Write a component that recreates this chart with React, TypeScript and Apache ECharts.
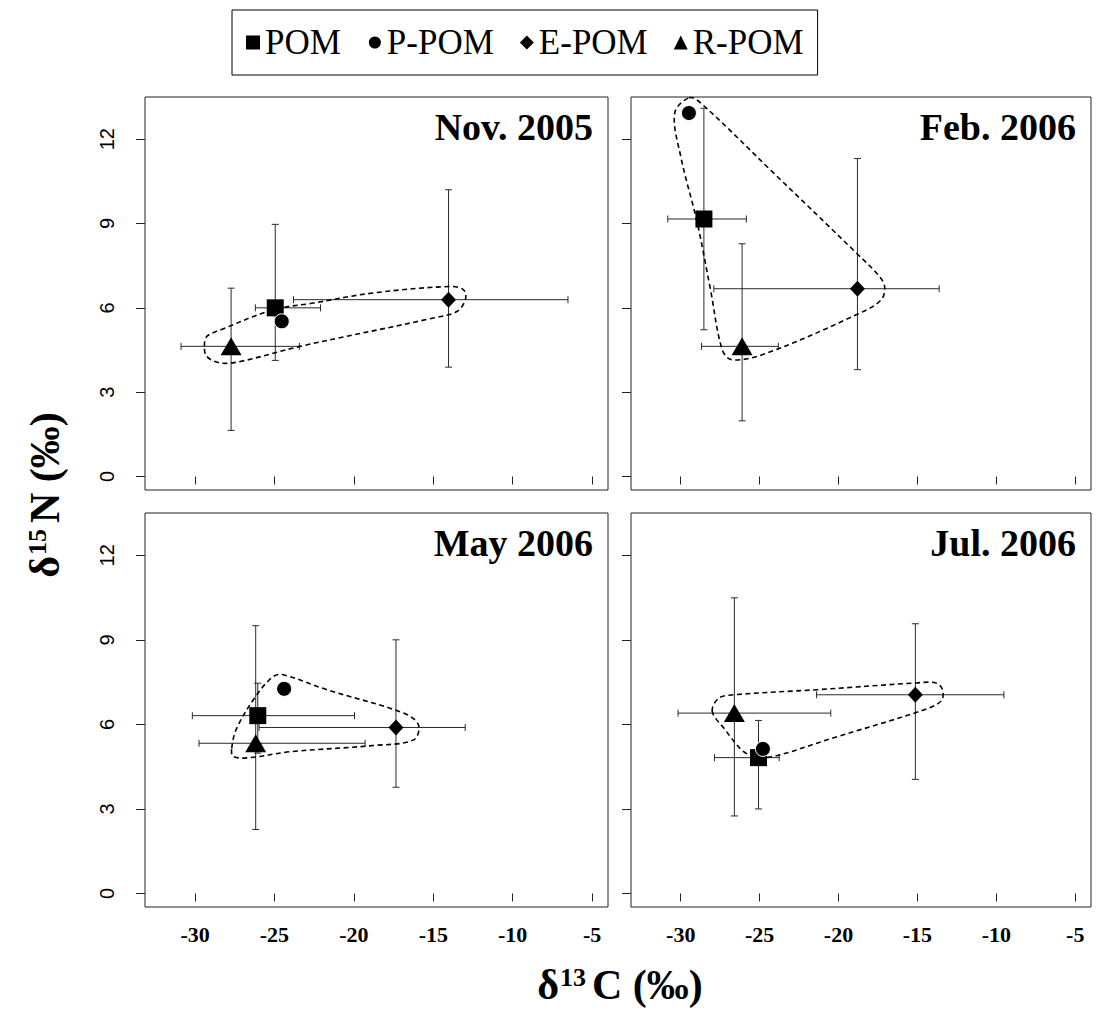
import React, { useEffect, useRef } from "react";
import * as echarts from "echarts";

const panelTitles = ["Nov. 2005", "Feb. 2006", "May 2006", "Jul. 2006"];
const seriesNames = ["POM", "P-POM", "E-POM", "R-POM"];
const xTicks = [-30, -25, -20, -15, -10, -5];
const yTicks = [0, 3, 6, 9, 12];

// means [d13C, d15N], order: POM, P-POM, E-POM, R-POM
const novMeans = [[-24.95, 6.0], [-24.54, 5.52], [-14.04, 6.29], [-27.73, 4.63]];
const febMeans = [[-28.53, 9.16], [-29.48, 12.93], [-18.8, 6.68], [-26.11, 4.63]];
const mayMeans = [[-26.05, 6.31], [-24.39, 7.26], [-17.35, 5.89], [-26.18, 5.33]];
const julMeans = [[-25.07, 4.82], [-24.79, 5.13], [-15.13, 7.05], [-26.6, 6.4]];

// error ranges [xLow, xHigh, yLow, yHigh]
const novErrors = [[-26.2, -22.1, 4.13, 8.97], null, [-23.8, -6.52, 3.89, 10.2], [-30.88, -23.43, 1.64, 6.7]];
const febErrors = [[-30.82, -25.84, 5.22, 13.1], null, [-27.9, -13.62, 3.8, 11.31], [-28.68, -23.81, 1.98, 8.28]];
const mayErrors = [[-30.17, -19.96, 4.98, 7.46], null, [-25.97, -12.99, 3.77, 9.0], [-29.75, -19.29, 2.27, 9.5]];
const julErrors = [[-27.86, -23.76, 3.0, 6.14], null, [-21.39, -9.52, 4.05, 9.57], [-30.17, -20.49, 2.75, 10.49]];

// dashed outlines (d13C, d15N)
const novHull = [[-29.41, 4.63], [-29.26, 4.98], [-28.42, 5.21], [-25.07, 5.93], [-22.55, 6.17], [-18.77, 6.53], [-13.93, 6.76], [-13.09, 6.64], [-12.98, 6.29], [-13.51, 5.87], [-14.98, 5.64], [-23.38, 4.63], [-27.16, 4.09], [-28.42, 4.04], [-29.26, 4.27]];
const febHull = [[-29.48, 13.47], [-28.74, 13.29], [-24.12, 10.8], [-18.87, 7.95], [-17.5, 7.18], [-17.08, 6.76], [-17.29, 6.29], [-18.66, 5.81], [-24.54, 4.39], [-26.74, 4.15], [-27.37, 4.51], [-28.11, 6.64], [-28.95, 9.02], [-30.0, 11.39], [-30.38, 12.93]];
const mayHull = [[-27.69, 5.15], [-27.37, 5.87], [-26.11, 7.05], [-25.07, 7.7], [-24.44, 7.76], [-21.7, 7.23], [-16.87, 6.4], [-15.93, 5.98], [-16.24, 5.45], [-18.77, 5.25], [-24.01, 5.03], [-26.53, 4.82], [-27.59, 4.86]];
const julHull = [[-28.0, 6.46], [-27.59, 6.93], [-26.64, 7.05], [-21.39, 7.23], [-15.08, 7.47], [-13.82, 7.47], [-13.41, 7.23], [-13.51, 6.82], [-14.88, 6.46], [-20.34, 5.52], [-24.12, 4.86], [-25.17, 4.86], [-26.01, 5.03], [-27.27, 5.87]];

const allMeans = [novMeans, febMeans, mayMeans, julMeans];
const allErrors = [novErrors, febErrors, mayErrors, julErrors];
const allHulls = [novHull, febHull, mayHull, julHull];

const X_MIN = -33.15;
const X_MAX = -4.0;
const Y_MIN = -0.48;
const Y_MAX = 13.5;

const grids = [
  { left: 145, top: 97, width: 463, height: 393 },
  { left: 631, top: 97, width: 460, height: 393 },
  { left: 145, top: 513, width: 463, height: 394 },
  { left: 631, top: 513, width: 460, height: 394 },
];

const symbols = [
  { symbol: "rect", size: 17 },
  { symbol: "circle", size: 15 },
  { symbol: "diamond", size: [15, 16] },
  { symbol: "triangle", size: [21, 18] },
];

const SERIF = "'Liberation Serif', 'Times New Roman', serif";
const SANS = "'Liberation Sans', Arial, sans-serif";

export default function App() {
  const ref = useRef<HTMLDivElement>(null);
  useEffect(() => {
    document.body.style.margin = "0";
    const chart = echarts.init(ref.current!, null, { renderer: "svg" });

    const series: any[] = [];
    for (let p = 0; p < 4; p++) {
      const means = allMeans[p];
      const errs = allErrors[p];
      const errData: number[][] = [];
      errs.forEach((e, i) => {
        if (e) errData.push([means[i][0], means[i][1], e[0], e[1], e[2], e[3]]);
      });
      series.push({
        type: "custom",
        xAxisIndex: p,
        yAxisIndex: p,
        silent: true,
        z: 1,
        data: errData,
        renderItem: (params: any, api: any) => {
          const x = api.value(0), y = api.value(1);
          const pL = api.coord([api.value(2), y]);
          const pR = api.coord([api.value(3), y]);
          const pB = api.coord([x, api.value(4)]);
          const pT = api.coord([x, api.value(5)]);
          const c = 3.5;
          const st = { stroke: "#2a2a2a", lineWidth: 1 };
          const ln = (x1: number, y1: number, x2: number, y2: number) => ({
            type: "line",
            shape: { x1, y1, x2, y2 },
            style: st,
          });
          return {
            type: "group",
            children: [
              ln(pL[0], pL[1], pR[0], pR[1]),
              ln(pL[0], pL[1] - c, pL[0], pL[1] + c),
              ln(pR[0], pR[1] - c, pR[0], pR[1] + c),
              ln(pB[0], pB[1], pT[0], pT[1]),
              ln(pB[0] - c, pB[1], pB[0] + c, pB[1]),
              ln(pT[0] - c, pT[1], pT[0] + c, pT[1]),
            ],
          };
        },
      });
      const hull = allHulls[p];
      series.push({
        type: "custom",
        xAxisIndex: p,
        yAxisIndex: p,
        silent: true,
        z: 2,
        data: [hull[0]],
        renderItem: (params: any, api: any) => {
          const pts = hull.map((h) => api.coord(h));
          return {
            type: "polygon",
            shape: { points: pts, smooth: 0.35 },
            style: { fill: "none", stroke: "#000", lineWidth: 1.6, lineDash: [5, 3.5] },
          };
        },
      });
      for (let s = 0; s < 4; s++) {
        series.push({
          type: "scatter",
          name: seriesNames[s],
          xAxisIndex: p,
          yAxisIndex: p,
          z: 3,
          symbol: symbols[s].symbol,
          symbolSize: symbols[s].size,
          itemStyle:
            s === 1
              ? { color: "#000", opacity: 1, borderColor: "#fff", borderWidth: 1 }
              : { color: "#000", opacity: 1 },
          data: [means[s]],
        });
      }
    }

    const graphic: any[] = [];
    grids.forEach((g, i) => {
      graphic.push({
        type: "text",
        x: g.left + g.width - 15,
        y: g.top + 30,
        style: {
          text: panelTitles[i],
          fontFamily: SERIF,
          fontWeight: "bold",
          fontSize: 38,
          fill: "#000",
          textAlign: "right",
          align: "right",
          textVerticalAlign: "middle",
          verticalAlign: "middle",
        },
      });
    });
    const rich = {
      a: { fontFamily: SERIF, fontWeight: "bold", fontSize: 42, fill: "#000", color: "#000" },
      s: { fontFamily: SERIF, fontWeight: "bold", fontSize: 26, fill: "#000", color: "#000", verticalAlign: "top", padding: [0, 6, 0, 1] },
    };
    graphic.push({
      type: "text",
      x: 620,
      y: 985,
      style: {
        text: "{a|δ}{s|13}{a|C (‰)}",
        rich,
        textAlign: "center",
        align: "center",
        textVerticalAlign: "middle",
        verticalAlign: "middle",
      },
    });
    graphic.push({
      type: "text",
      x: 45,
      y: 495,
      rotation: Math.PI / 2,
      style: {
        text: "{a|δ}{s|15}{a|N (‰)}",
        rich,
        textAlign: "center",
        align: "center",
        textVerticalAlign: "middle",
        verticalAlign: "middle",
      },
    });

    const option: any = {
      animation: false,
      backgroundColor: "#fff",
      grid: grids.map((g) => ({
        ...g,
        show: true,
        borderColor: "#222",
        borderWidth: 1,
        backgroundColor: "transparent",
      })),
      xAxis: grids.map((g, i) => ({
        type: "value",
        gridIndex: i,
        min: X_MIN,
        max: X_MAX,
        splitLine: { show: false },
        axisLine: { show: false },
        axisTick: { show: true, inside: false, length: 8, lineStyle: { color: "#222" }, customValues: xTicks },
        axisLabel: {
          show: i >= 2,
          customValues: xTicks,
          margin: 16,
          fontFamily: SERIF,
          fontWeight: "bold",
          fontSize: 22,
          color: "#000",
        },
      })),
      yAxis: grids.map((g, i) => ({
        type: "value",
        gridIndex: i,
        min: Y_MIN,
        max: Y_MAX,
        splitLine: { show: false },
        axisLine: { show: false },
        axisTick: { show: true, inside: false, length: 9, lineStyle: { color: "#222" }, customValues: yTicks },
        axisLabel: {
          show: i % 2 === 0,
          customValues: yTicks,
          rotate: 90,
          margin: 28,
          fontFamily: SANS,
          fontSize: 20,
          color: "#000",
        },
      })),
      legend: {
        left: 232,
        top: 10,
        padding: [15, 14, 15, 14],
        borderColor: "#000",
        borderWidth: 1,
        itemGap: 26,
        itemWidth: 14,
        itemHeight: 14,
        selectedMode: false,
        data: [
          { name: "POM", icon: "rect" },
          { name: "P-POM", icon: "circle" },
          { name: "E-POM", icon: "diamond" },
          { name: "R-POM", icon: "triangle" },
        ],
        textStyle: { fontFamily: SERIF, fontWeight: "normal", fontSize: 35, color: "#000" },
      },
      graphic,
      series,
    };
    chart.setOption(option);
    return () => chart.dispose();
  }, []);
  return <div ref={ref} style={{ width: 1097, height: 1032 }} />;
}
